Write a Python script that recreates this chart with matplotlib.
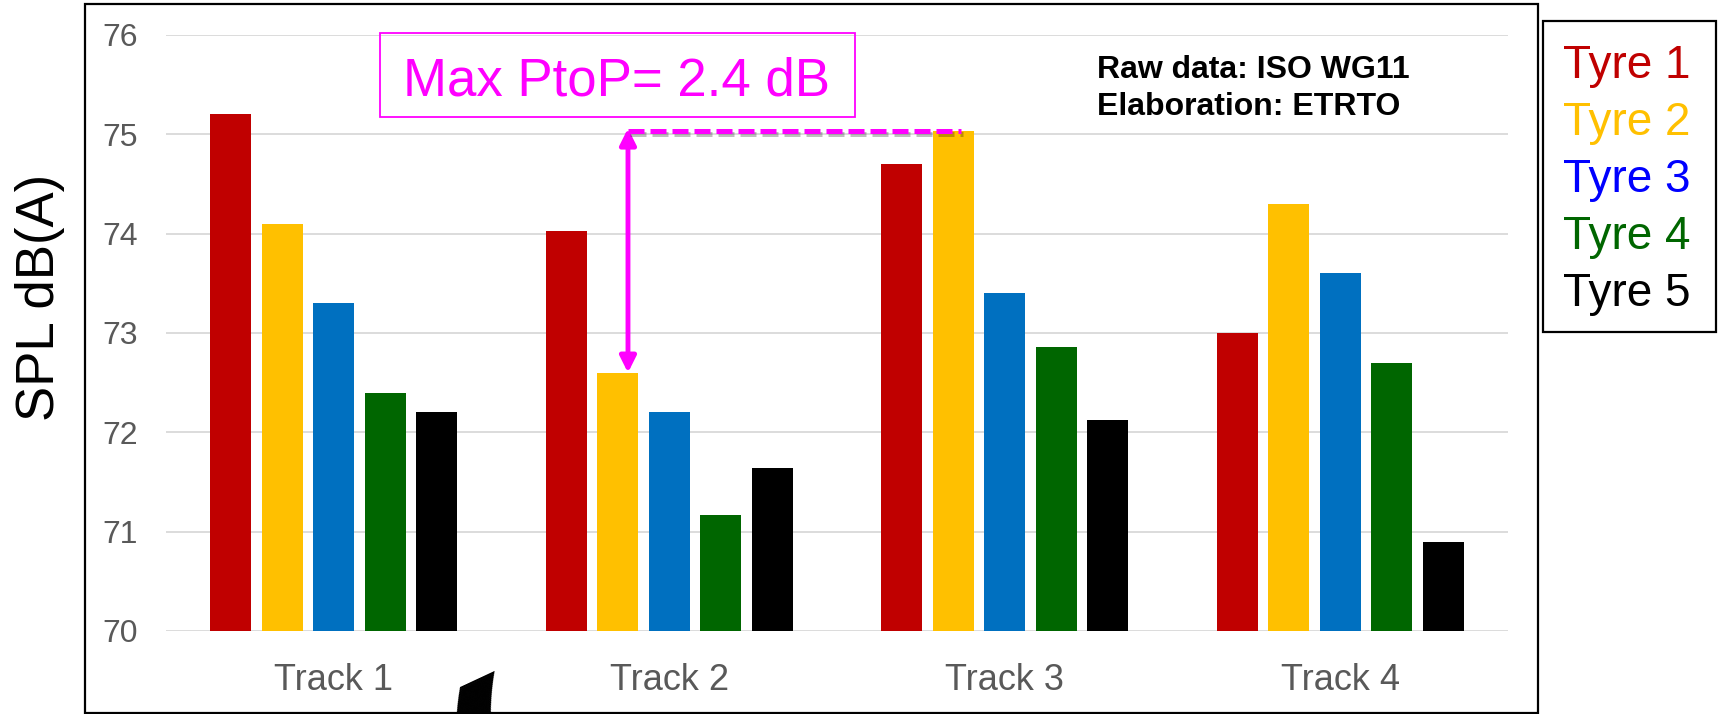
import numpy as np
import matplotlib
matplotlib.use('Agg')
import matplotlib.pyplot as plt
from matplotlib.patches import Rectangle
import matplotlib.patheffects as pe

plt.rcParams['font.family'] = ['Liberation Sans', 'DejaVu Sans']

# --- data ---
tracks = ['Track 1', 'Track 2', 'Track 3', 'Track 4']
tyres = ['Tyre 1', 'Tyre 2', 'Tyre 3', 'Tyre 4', 'Tyre 5']
tyre1 = [75.2, 74.03, 74.7, 73.0]
tyre2 = [74.1, 72.6, 75.03, 74.3]
tyre3 = [73.3, 72.2, 73.4, 73.6]
tyre4 = [72.4, 71.17, 72.86, 72.7]
tyre5 = [72.2, 71.64, 72.12, 70.9]
y_ticks = [70, 71, 72, 73, 74, 75, 76]

series = [tyre1, tyre2, tyre3, tyre4, tyre5]
bar_colors = ['#C00000', '#FFC000', '#0070C0', '#006600', '#000000']
text_colors = ['#C00000', '#FFC000', '#0000FF', '#006600', '#000000']

W, H = 1719, 714
fig = plt.figure(figsize=(W / 100, H / 100), dpi=100)


def fx(px):
    return px / W


def fy(py):
    # pixel row measured from the top -> figure fraction
    return 1 - py / H


ax = fig.add_axes([fx(166), fy(631), fx(1508 - 166), (631 - 35) / H])

x = np.arange(len(tracks))
pitch = 0.1535
width = 0.121
for i, vals in enumerate(series):
    ax.bar(x + (i - 2) * pitch, np.array(vals) - 70, width=width, bottom=70,
           color=bar_colors[i], zorder=3)

ax.set_xlim(-0.5, 3.5)
ax.set_ylim(70, 76)
ax.set_yticks(y_ticks)
ax.set_yticklabels([str(t) for t in y_ticks])
ax.yaxis.grid(True, color='#D9D9D9', lw=1.3, zorder=0)
ax.set_xticks(x)
ax.set_xticklabels(tracks)
ax.tick_params(axis='y', length=0, pad=20, labelsize=23, labelcolor='#595959')
ax.tick_params(axis='x', length=0, pad=23, labelsize=26, labelcolor='#595959')
for s in ax.spines.values():
    s.set_visible(False)
ax.patch.set_alpha(0)

# peak-to-peak marker: vertical double arrow + dashed reference line
shadow = [pe.SimpleLineShadow(offset=(1.5, -2), alpha=0.25), pe.Normal()]
x_arrow = 0.877
ax.annotate('', xy=(x_arrow, 75.06), xytext=(x_arrow, tyre2[1]),
            arrowprops=dict(arrowstyle='<|-|>', color='#FF00FF', lw=3.5,
                            mutation_scale=24, shrinkA=0, shrinkB=0),
            zorder=5)
ax.plot([x_arrow, 1.87], [75.035, 75.035], color='#FF00FF', lw=3.6,
        dashes=(3.2, 1.2), solid_capstyle='butt', zorder=5, path_effects=shadow)

# text box "Max PtoP"
fig.patches.append(Rectangle((fx(380), fy(116.5)), fx(855 - 380), (116.5 - 33) / H,
                             transform=fig.transFigure, fill=False,
                             edgecolor='#FF00FF', lw=1.3))
fig.text(fx(403), fy(95), 'Max PtoP= 2.4 dB', color='#FF00FF', fontsize=38,
         ha='left', va='baseline')

# source note
fig.text(fx(1097), fy(78), 'Raw data: ISO WG11', fontsize=23, fontweight='bold',
         ha='left', va='baseline')
fig.text(fx(1097), fy(115), 'Elaboration: ETRTO', fontsize=23, fontweight='bold',
         ha='left', va='baseline')

# y label
fig.text(fx(40), fy(297), 'SPL dB(A)', rotation=90, fontsize=38,
         ha='center', va='center')

# outer frame
fig.patches.append(Rectangle((fx(85), fy(713)), fx(1538 - 85), (713 - 4) / H,
                             transform=fig.transFigure, fill=False,
                             edgecolor='black', lw=1.6))

# legend box with coloured names
fig.patches.append(Rectangle((fx(1543), fy(332)), fx(1716 - 1543), (332 - 21) / H,
                             transform=fig.transFigure, fill=False,
                             edgecolor='black', lw=1.6))
baselines = [78, 135, 192, 249, 306]
for name, col, b in zip(tyres, text_colors, baselines):
    fig.text(fx(1563), fy(b), name, color=col, fontsize=33, ha='left', va='baseline')

# stray bracket left over from the slide (only its top shows)
fig.text(fx(495), fy(887), '(', fontsize=200, fontweight='bold', ha='left',
         va='baseline', rotation=25, rotation_mode='anchor', color='black')

fig.savefig('out.png', dpi=100)
